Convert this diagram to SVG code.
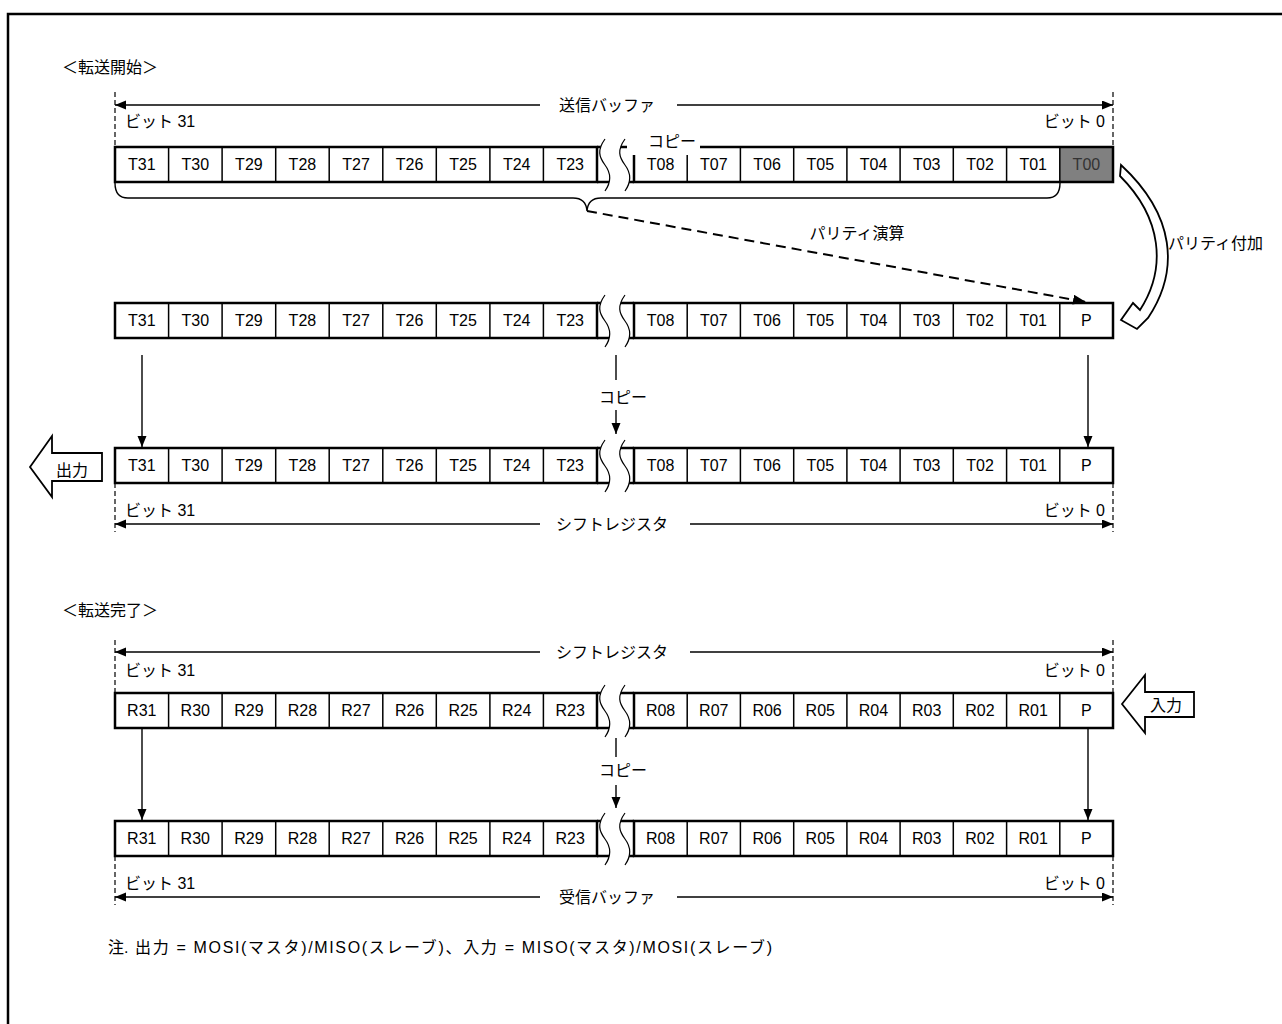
<svg xmlns="http://www.w3.org/2000/svg" xmlns:xlink="http://www.w3.org/1999/xlink" width="1282" height="1024" viewBox="0 0 1282 1024">
<style>
.t{font-family:"Liberation Sans","Noto Sans CJK JP",sans-serif;font-size:16px;fill:#000}
.c{text-anchor:middle}
.e{text-anchor:end}
.box{fill:none;stroke:#000;stroke-width:2.5}
.div{fill:none;stroke:#000;stroke-width:1.5}
.wave{fill:none;stroke:#000;stroke-width:1.2}
.arr{fill:none;stroke:#000;stroke-width:1.4}
.dv{fill:none;stroke:#000;stroke-width:1.2;stroke-dasharray:5 3}
.hol{fill:#fff;stroke:#000;stroke-width:1.8;stroke-linejoin:miter}
</style>
<defs>
<marker id="ah" markerUnits="userSpaceOnUse" markerWidth="12" markerHeight="10" refX="11" refY="4.5" orient="auto-start-reverse">
<path d="M0,0 L11,4.5 L0,9 Z" fill="#000"/>
</marker>
<marker id="ah2" markerUnits="userSpaceOnUse" markerWidth="14" markerHeight="12" refX="13" refY="5" orient="auto">
<path d="M0,0 L13,5 L0,10 Z" fill="#000"/>
</marker>
<g id="frame">
<path class="div" d="M168.6,0v35M222.1,0v35M275.7,0v35M329.2,0v35M382.8,0v35M436.3,0v35M489.9,0v35M543.4,0v35M687.2,0v35M740.4,0v35M793.7,0v35M846.9,0v35M900.1,0v35M953.3,0v35M1006.6,0v35M1059.8,0v35"/>
<rect class="box" x="115" y="0" width="482" height="35"/>
<rect class="box" x="634" y="0" width="479" height="35"/>
<path class="box" d="M597,0H634M597,35H634"/>
<path fill="#fff" d="M605,-8 C597,3 599,10 605,18 C611,26 612,34 605,44 L625,44 C632,34 631,26 625,18 C619,10 617,3 625,-8Z"/>
<path class="wave" d="M605,-8 C597,3 599,10 605,18 C611,26 612,34 605,44 M625,-8 C617,3 619,10 625,18 C631,26 632,34 625,44"/>
</g>
</defs>
<rect width="1282" height="1024" fill="#fff"/>
<rect x="8" y="14" width="1300" height="1040" fill="none" stroke="#000" stroke-width="2.5"/>

<g id="labels">
<text class="t" x="62" y="73">＜転送開始＞</text>
<text class="t c" x="607" y="111">送信バッファ</text>
<text class="t" x="125" y="127">ビット 31</text>
<text class="t e" x="1105" y="127">ビット 0</text>
<text class="t c" x="857" y="239">パリティ演算</text>
<text class="t" x="1168" y="249">パリティ付加</text>
<text class="t" x="599" y="403">コピー</text>
<text class="t" x="125" y="516">ビット 31</text>
<text class="t e" x="1105" y="516">ビット 0</text>
<text class="t c" x="612" y="530">シフトレジスタ</text>
<text class="t" x="62" y="616">＜転送完了＞</text>
<text class="t c" x="612" y="658">シフトレジスタ</text>
<text class="t" x="125" y="676">ビット 31</text>
<text class="t e" x="1105" y="676">ビット 0</text>
<text class="t" x="599" y="776">コピー</text>
<text class="t" x="125" y="889">ビット 31</text>
<text class="t e" x="1105" y="889">ビット 0</text>
<text class="t c" x="607" y="903">受信バッファ</text>
<text class="t" x="108" y="953">注.</text>
<text class="t" x="135" y="953" textLength="637" lengthAdjust="spacing">出力 = MOSI(マスタ)/MISO(スレーブ)、入力 = MISO(マスタ)/MOSI(スレーブ)</text>
</g>

<g id="tx-buffer" transform="translate(0,147)">
<rect x="1059.8" y="0" width="53.2" height="35" fill="#808080"/>
<use xlink:href="#frame" href="#frame"/>
<rect x="627" y="-14" width="73" height="22" fill="#fff"/>
<text class="t" x="648" y="0">コピー</text>
<g class="t c">
<text x="141.8" y="23">T31</text><text x="195.3" y="23">T30</text><text x="248.9" y="23">T29</text><text x="302.4" y="23">T28</text><text x="356" y="23">T27</text><text x="409.6" y="23">T26</text><text x="463.1" y="23">T25</text><text x="516.7" y="23">T24</text><text x="570.2" y="23">T23</text>
<text x="660.6" y="23">T08</text><text x="713.8" y="23">T07</text><text x="767.1" y="23">T06</text><text x="820.3" y="23">T05</text><text x="873.5" y="23">T04</text><text x="926.7" y="23">T03</text><text x="980" y="23">T02</text><text x="1033.2" y="23">T01</text><text x="1086.4" y="23" style="fill:#333">T00</text>
</g>
</g>

<g id="tx-parity" transform="translate(0,303)">
<use xlink:href="#frame" href="#frame"/>
<g class="t c">
<text x="141.8" y="23">T31</text><text x="195.3" y="23">T30</text><text x="248.9" y="23">T29</text><text x="302.4" y="23">T28</text><text x="356" y="23">T27</text><text x="409.6" y="23">T26</text><text x="463.1" y="23">T25</text><text x="516.7" y="23">T24</text><text x="570.2" y="23">T23</text>
<text x="660.6" y="23">T08</text><text x="713.8" y="23">T07</text><text x="767.1" y="23">T06</text><text x="820.3" y="23">T05</text><text x="873.5" y="23">T04</text><text x="926.7" y="23">T03</text><text x="980" y="23">T02</text><text x="1033.2" y="23">T01</text><text x="1086.4" y="23">P</text>
</g>
</g>

<g id="tx-shift" transform="translate(0,448)">
<use xlink:href="#frame" href="#frame"/>
<g class="t c">
<text x="141.8" y="23">T31</text><text x="195.3" y="23">T30</text><text x="248.9" y="23">T29</text><text x="302.4" y="23">T28</text><text x="356" y="23">T27</text><text x="409.6" y="23">T26</text><text x="463.1" y="23">T25</text><text x="516.7" y="23">T24</text><text x="570.2" y="23">T23</text>
<text x="660.6" y="23">T08</text><text x="713.8" y="23">T07</text><text x="767.1" y="23">T06</text><text x="820.3" y="23">T05</text><text x="873.5" y="23">T04</text><text x="926.7" y="23">T03</text><text x="980" y="23">T02</text><text x="1033.2" y="23">T01</text><text x="1086.4" y="23">P</text>
</g>
</g>

<g id="rx-shift" transform="translate(0,693)">
<use xlink:href="#frame" href="#frame"/>
<g class="t c">
<text x="141.8" y="23">R31</text><text x="195.3" y="23">R30</text><text x="248.9" y="23">R29</text><text x="302.4" y="23">R28</text><text x="356" y="23">R27</text><text x="409.6" y="23">R26</text><text x="463.1" y="23">R25</text><text x="516.7" y="23">R24</text><text x="570.2" y="23">R23</text>
<text x="660.6" y="23">R08</text><text x="713.8" y="23">R07</text><text x="767.1" y="23">R06</text><text x="820.3" y="23">R05</text><text x="873.5" y="23">R04</text><text x="926.7" y="23">R03</text><text x="980" y="23">R02</text><text x="1033.2" y="23">R01</text><text x="1086.4" y="23">P</text>
</g>
</g>

<g id="rx-buffer" transform="translate(0,821)">
<use xlink:href="#frame" href="#frame"/>
<g class="t c">
<text x="141.8" y="23">R31</text><text x="195.3" y="23">R30</text><text x="248.9" y="23">R29</text><text x="302.4" y="23">R28</text><text x="356" y="23">R27</text><text x="409.6" y="23">R26</text><text x="463.1" y="23">R25</text><text x="516.7" y="23">R24</text><text x="570.2" y="23">R23</text>
<text x="660.6" y="23">R08</text><text x="713.8" y="23">R07</text><text x="767.1" y="23">R06</text><text x="820.3" y="23">R05</text><text x="873.5" y="23">R04</text><text x="926.7" y="23">R03</text><text x="980" y="23">R02</text><text x="1033.2" y="23">R01</text><text x="1086.4" y="23">P</text>
</g>
</g>

<g id="out-arrow">
<path class="hol" d="M30,467 L52,436 L52,453 L102,453 L102,481 L52,481 L52,497 Z"/>
<text class="t" x="56" y="476">出力</text>
</g>
<g id="in-arrow">
<path class="hol" d="M1122,704 L1145,675 L1145,692 L1194,692 L1194,717 L1145,717 L1145,733 Z"/>
<text class="t" x="1150" y="711">入力</text>
</g>

<g id="connectors">
<path class="dv" d="M115,92V147M1113,92V147M115,483V532M1113,483V532M115,640V693M1113,640V693M115,856V905M1113,856V905"/>
<line class="arr" x1="115" y1="105" x2="540" y2="105" marker-start="url(#ah)"/>
<line class="arr" x1="677" y1="105" x2="1113" y2="105" marker-end="url(#ah)"/>
<line class="arr" x1="115" y1="524" x2="540" y2="524" marker-start="url(#ah)"/>
<line class="arr" x1="690" y1="524" x2="1113" y2="524" marker-end="url(#ah)"/>
<line class="arr" x1="115" y1="652" x2="540" y2="652" marker-start="url(#ah)"/>
<line class="arr" x1="690" y1="652" x2="1113" y2="652" marker-end="url(#ah)"/>
<line class="arr" x1="115" y1="897" x2="540" y2="897" marker-start="url(#ah)"/>
<line class="arr" x1="677" y1="897" x2="1113" y2="897" marker-end="url(#ah)"/>
<path class="arr" d="M115,183 Q115,198 128,198 L573,198 Q586,198 587,211 Q588,198 601,198 L1047,198 Q1060,198 1060,183"/>
<line x1="587" y1="211" x2="1086" y2="302" stroke="#000" stroke-width="2" stroke-dasharray="10 6" marker-end="url(#ah2)"/>
<path class="hol" d="M1121,165 C1175,215 1180,270 1148,318 L1137,329 L1121,320 L1133,303 L1140,310 C1167,268 1162,218 1120,176 Z"/>
<line class="arr" x1="142" y1="355" x2="142" y2="447" marker-end="url(#ah)"/>
<line class="arr" x1="1088" y1="355" x2="1088" y2="447" marker-end="url(#ah)"/>
<line class="arr" x1="616" y1="355" x2="616" y2="380"/>
<line class="arr" x1="616" y1="410" x2="616" y2="434" marker-end="url(#ah)"/>
<line class="arr" x1="142" y1="729" x2="142" y2="820" marker-end="url(#ah)"/>
<line class="arr" x1="1088" y1="729" x2="1088" y2="820" marker-end="url(#ah)"/>
<line class="arr" x1="616" y1="738" x2="616" y2="757"/>
<line class="arr" x1="616" y1="785" x2="616" y2="808" marker-end="url(#ah)"/>
</g>
</svg>
